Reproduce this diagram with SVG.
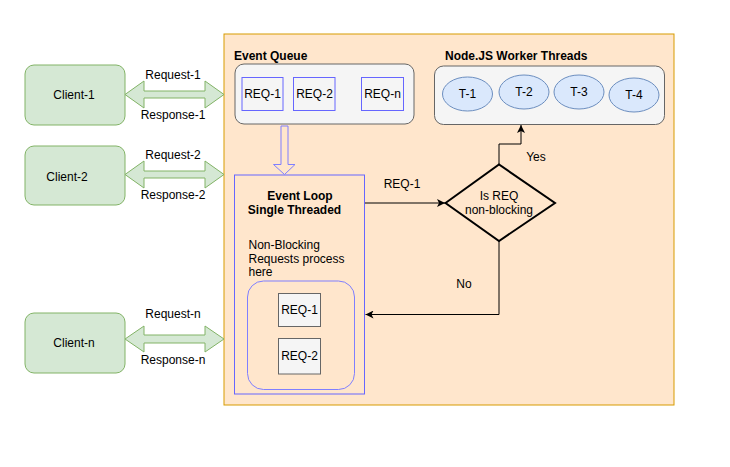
<svg xmlns="http://www.w3.org/2000/svg" width="730" height="467" viewBox="0 0 730 467">
<defs>
<style>
text{font-family:"Liberation Sans",Arial,sans-serif;font-size:12px;fill:#000}
.b{font-weight:bold}
.m{text-anchor:middle}
.client{fill:#d5e8d4;stroke:#82b366;stroke-width:1}
.dbl{fill:#d5e8d4;stroke:#82b366;stroke-width:1}
.grp{fill:#f5f5f5;stroke:#666666;stroke-width:1}
.req{fill:#f5f5f5;stroke:#6666ff;stroke-width:1}
.req2{fill:#f5f5f5;stroke:#666666;stroke-width:1}
.th{fill:#dae8fc;stroke:#6c8ebf;stroke-width:1}
.edge{fill:none;stroke:#000;stroke-width:1}
</style>
<marker id="ah" viewBox="0 0 10 10" refX="10" refY="5" markerWidth="8" markerHeight="8" markerUnits="userSpaceOnUse" orient="auto">
<path d="M0,0 L10,5 L0,10 L2.5,5 Z" fill="#000"/>
</marker>
</defs>
<rect width="730" height="467" fill="#ffffff"/>

<g id="main-container">
<rect x="224" y="34" width="450" height="371" fill="#ffe6cc" stroke="#d79b00" stroke-width="1"/>
</g>

<g id="client-1"><rect class="client" x="25" y="65" width="100" height="60" rx="9"/><text class="m" x="74" y="99">Client-1</text></g>
<g id="client-2"><rect class="client" x="25" y="146" width="100" height="59" rx="9"/><text class="m" x="67" y="181">Client-2</text></g>
<g id="client-n"><rect class="client" x="25" y="313" width="100" height="60" rx="9"/><text class="m" x="74" y="347">Client-n</text></g>

<g id="event-queue">
<text class="b" x="234" y="60">Event Queue</text>
<rect class="grp" x="235" y="64" width="179" height="60" rx="9"/>
<rect class="req" x="242" y="77.5" width="41" height="33"/><text class="m" x="262.5" y="98">REQ-1</text>
<rect class="req" x="293.5" y="77.5" width="41.5" height="33"/><text class="m" x="314.5" y="98">REQ-2</text>
<rect class="req" x="361.5" y="77.5" width="42" height="33"/><text class="m" x="382.5" y="98">REQ-n</text>
</g>

<g id="worker-threads">
<text class="b" x="445" y="60">Node.JS Worker Threads</text>
<rect class="grp" x="434.5" y="66" width="230" height="58.5" rx="9"/>
<ellipse class="th" cx="467.5" cy="94" rx="25" ry="17"/><text class="m" x="467.5" y="98">T-1</text>
<ellipse class="th" cx="524" cy="92" rx="25" ry="17"/><text class="m" x="524" y="96">T-2</text>
<ellipse class="th" cx="579" cy="92" rx="25" ry="17"/><text class="m" x="579" y="96">T-3</text>
<ellipse class="th" cx="634" cy="95" rx="25" ry="17"/><text class="m" x="634" y="99">T-4</text>
</g>

<g id="event-loop">
<rect x="234.5" y="175" width="130" height="219" fill="none" stroke="#6666ff" stroke-width="1"/>
<text class="b m" x="300" y="200">Event Loop</text>
<text class="b m" x="294.5" y="214">Single Threaded</text>
<text x="248.5" y="249">Non-Blocking</text>
<text x="248.5" y="263">Requests process</text>
<text x="248.5" y="276">here</text>
<rect x="247.5" y="281" width="107" height="108.5" rx="16" fill="none" stroke="#7f7fff" stroke-width="1"/>
<rect class="req2" x="278.5" y="293.5" width="42" height="33"/><text class="m" x="299.5" y="314">REQ-1</text>
<rect class="req2" x="278.5" y="338.5" width="42" height="35.5"/><text class="m" x="299.5" y="360">REQ-2</text>
</g>

<g id="decision">
<path d="M445.5,203 L499,164.5 L555,203 L499,241 Z" fill="#ffe6cc" stroke="#000" stroke-width="2"/>
<text class="m" x="499" y="200">Is REQ</text>
<text class="m" x="499" y="214">non-blocking</text>
</g>

<g id="connectors">
<path class="dbl" d="M125,94.5 L144,81 L144,91 L205,91 L205,81 L224,94.5 L205,108 L205,98 L144,98 L144,108 Z"/>
<path class="dbl" d="M125,174.5 L144,161 L144,171 L205,171 L205,161 L224,174.5 L205,188 L205,178 L144,178 L144,188 Z"/>
<path class="dbl" d="M125,339 L144,326 L144,335 L205,335 L205,326 L224,339 L205,352 L205,343 L144,343 L144,352 Z"/>
<path d="M281,126 L288,126 L288,164.5 L295,164.5 L284.5,174.5 L273.5,164.5 L281,164.5 Z" fill="#ffe6cc" stroke="#7f7fff" stroke-width="1"/>
<path class="edge" d="M365,203 L445,203" marker-end="url(#ah)"/>
<path class="edge" d="M499,164.5 L499,144 L521,144 L521,125" marker-end="url(#ah)"/>
<path class="edge" d="M499,241 L499,314.5 L365.5,314.5" marker-end="url(#ah)"/>
<text class="m" x="173" y="79">Request-1</text>
<text class="m" x="173" y="119">Response-1</text>
<text class="m" x="173" y="159">Request-2</text>
<text class="m" x="173" y="199">Response-2</text>
<text class="m" x="173" y="318">Request-n</text>
<text class="m" x="173" y="364">Response-n</text>
<text class="m" x="402" y="188">REQ-1</text>
<text class="m" x="536" y="161">Yes</text>
<text class="m" x="464" y="288">No</text>
</g>
</svg>
